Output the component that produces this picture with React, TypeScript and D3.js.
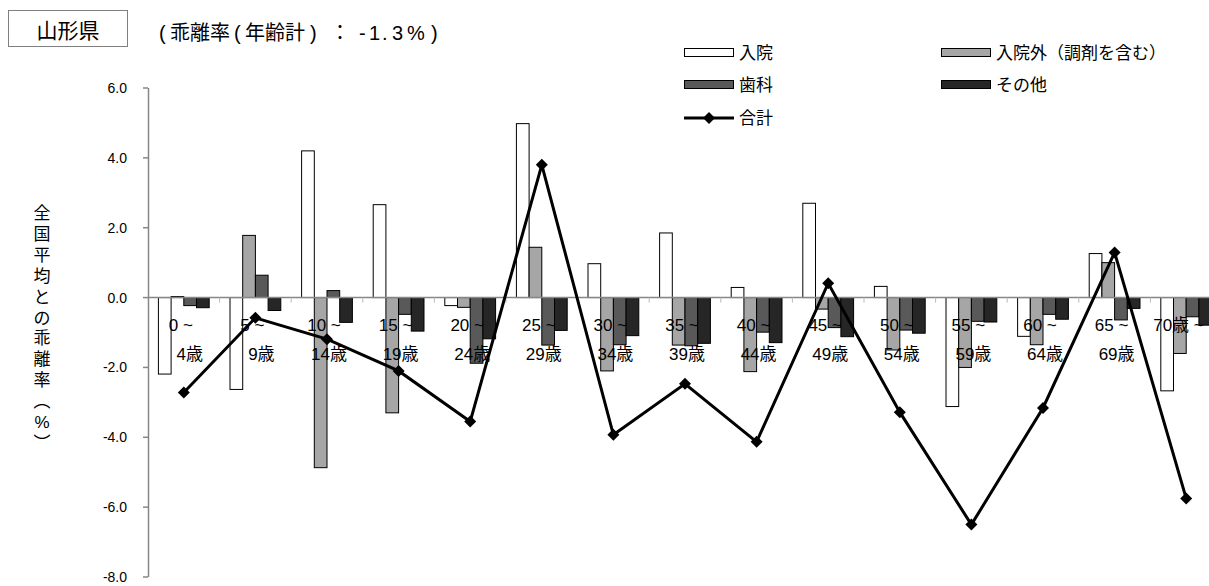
import React from 'react';
import * as d3 from 'd3';

const ageFrom = ['0', '5', '10', '15', '20', '25', '30', '35', '40', '45', '50', '55', '60', '65', '70'];
const ageTo = ['4', '9', '14', '19', '24', '29', '34', '39', '44', '49', '54', '59', '64', '69', ''];
const categories = ageFrom.map((a, i) => `${a}~${ageTo[i]}`);

const inpatient = [-2.19, -2.63, 4.2, 2.66, -0.23, 4.98, 0.97, 1.85, 0.29, 2.7, 0.32, -3.12, -1.11, 1.26, -2.67];
const outpatient = [0.03, 1.78, -4.87, -3.3, -0.28, 1.44, -2.1, -1.36, -2.12, -0.33, -1.5, -2.0, -1.35, 1.0, -1.6];
const dental = [-0.23, 0.64, 0.2, -0.48, -1.88, -1.36, -1.35, -1.38, -0.99, -0.86, -0.93, -0.68, -0.48, -0.64, -0.55];
const other = [-0.29, -0.37, -0.71, -0.96, -1.18, -0.94, -1.09, -1.31, -1.29, -1.12, -1.02, -0.7, -0.62, -0.31, -0.79];
const total = [-2.72, -0.58, -1.19, -2.1, -3.55, 3.8, -3.93, -2.47, -4.13, 0.41, -3.28, -6.5, -3.16, 1.29, -5.75];

const seriesNames = ['入院', '入院外（調剤を含む）', '歯科', 'その他'];
const lineName = '合計';
const yTicks = [6, 4, 2, 0, -2, -4, -6, -8];
const yLabelChars = ['全', '国', '平', '均', 'と', 'の', '乖', '離', '率', '︵', '%', '︶'];

const seriesData = [inpatient, outpatient, dental, other];
const seriesColors = ['#FFFFFF', '#A6A6A6', '#595959', '#262626'];

const FONT = "'Liberation Sans', Arial, 'Noto Sans CJK JP', sans-serif";

function diamondPath(cx: number, cy: number, r: number) {
  return `M${cx},${cy - r}L${cx + r},${cy}L${cx},${cy + r}L${cx - r},${cy}Z`;
}

export default function App() {
  const W = 1209;
  const H = 586;
  const x0 = 148;
  const step = 71.6;
  const x = d3.scaleBand<string>().domain(categories).range([x0, x0 + step * categories.length]).padding(0);
  const xs = d3
    .scaleBand<number>()
    .domain([0, 1, 2, 3])
    .range([0, x.bandwidth()])
    .paddingInner(0)
    .paddingOuter(0.82);
  const y = d3.scaleLinear().domain([-8, 6]).range([577, 88]);
  const y0 = y(0);
  const axisColor = '#868686';

  const line = d3
    .line<number>()
    .x((_, i) => (x(categories[i]) as number) + x.bandwidth() / 2)
    .y((d) => y(d));

  return (
    <svg
      width={W}
      height={H}
      style={{ position: 'absolute', left: 0, top: 0, background: '#fff' }}
      fontFamily={FONT}
    >
      <rect x={0} y={0} width={W} height={H} fill="#fff" />
      {/* title box */}
      <rect x={8.5} y={10.5} width={119} height={36} fill="#fff" stroke="#808080" strokeWidth={1} />
      <text x={68} y={38} fontSize={21} textAnchor="middle" fill="#000">山形県</text>
      <text fontSize={20} fill="#000" y={40}>
        <tspan x={159}>(</tspan>
        <tspan x={170}>乖離率</tspan>
        <tspan x={234}>(</tspan>
        <tspan x={245}>年齢計</tspan>
        <tspan x={310}>)</tspan>
        <tspan x={330}>：</tspan>
        <tspan x={359}>-</tspan>
        <tspan x={369}>1</tspan>
        <tspan x={382}>.</tspan>
        <tspan x={392}>3</tspan>
        <tspan x={407}>%</tspan>
        <tspan x={431}>)</tspan>
      </text>

      {/* legend */}
      {[0, 1, 2, 3].map((s) => {
        const col = s % 2;
        const row = Math.floor(s / 2);
        const lx = col === 0 ? 684 : 941;
        const ly = row === 0 ? 53 : 85;
        return (
          <g key={`lg${s}`}>
            <rect x={lx + 0.5} y={ly - 4.5} width={49} height={8} fill={seriesColors[s]} stroke="#000" strokeWidth={1} />
            <text x={lx + 55} y={ly + 6} fontSize={17} fill="#000">{seriesNames[s]}</text>
          </g>
        );
      })}
      <g>
        <line x1={684} x2={734} y1={118} y2={118} stroke="#000" strokeWidth={3} />
        <path d={diamondPath(709, 118, 6)} fill="#000" />
        <text x={739} y={124} fontSize={17} fill="#000">{lineName}</text>
      </g>

      {/* y axis label */}
      {yLabelChars.map((c, i) => (
        <text key={`yl${i}`} x={42} y={213 + i * 20.9 + 6} fontSize={17} textAnchor="middle" fill="#000">{c}</text>
      ))}

      {/* y axis */}
      <line x1={x0 + 0.5} x2={x0 + 0.5} y1={y(6)} y2={y(-8)} stroke={axisColor} strokeWidth={1.5} />
      {yTicks.map((t) => (
        <g key={`yt${t}`}>
          <line x1={x0 - 5} x2={x0} y1={y(t)} y2={y(t)} stroke={axisColor} strokeWidth={1.5} />
          <text x={127} y={y(t) + 5} fontSize={14} textAnchor="end" fill="#000">{t.toFixed(1)}</text>
        </g>
      ))}

      {/* bars */}
      {categories.map((c, i) => (
        <g key={`bg${i}`}>
          {seriesData.map((arr, s) => {
            const v = arr[i];
            const bx = (x(c) as number) + (xs(s) as number);
            const by = Math.min(y(v), y0);
            const bh = Math.abs(y(v) - y0);
            return (
              <rect
                key={`b${i}-${s}`}
                x={bx}
                y={by}
                width={xs.bandwidth()}
                height={bh}
                fill={seriesColors[s]}
                stroke="#000"
                strokeWidth={1}
              />
            );
          })}
        </g>
      ))}

      {/* zero axis */}
      <line x1={x0} x2={W} y1={y0} y2={y0} stroke={axisColor} strokeWidth={1.5} />
      {categories.map((c, i) =>
        i === 0 ? null : (
          <line key={`xt${i}`} x1={x(c) as number} x2={x(c) as number} y1={y0} y2={y0 + 5} stroke="#bbbbbb" strokeWidth={1} />
        )
      )}

      {/* category labels */}
      {categories.map((c, i) => {
        const cx = (x(c) as number) + x.bandwidth() / 2;
        if (ageTo[i] === '') {
          return (
            <text key={`xl${i}`} x={cx - 33} y={331} fontSize={17} fill="#000">{`${ageFrom[i]}歳 ~`}</text>
          );
        }
        return (
          <g key={`xl${i}`}>
            <text x={cx - 3} y={331} fontSize={17} textAnchor="middle" fill="#000">{`${ageFrom[i]} ~`}</text>
            <text x={cx + (ageTo[i].length === 1 ? 6 : 2)} y={360} fontSize={17} textAnchor="middle" fill="#000">{`${ageTo[i]}歳`}</text>
          </g>
        );
      })}

      {/* total line */}
      <path d={line(total) || ''} fill="none" stroke="#000" strokeWidth={3} strokeLinejoin="miter" />
      {total.map((v, i) => (
        <path
          key={`m${i}`}
          d={diamondPath((x(categories[i]) as number) + x.bandwidth() / 2, y(v), 6)}
          fill="#000"
        />
      ))}
    </svg>
  );
}
